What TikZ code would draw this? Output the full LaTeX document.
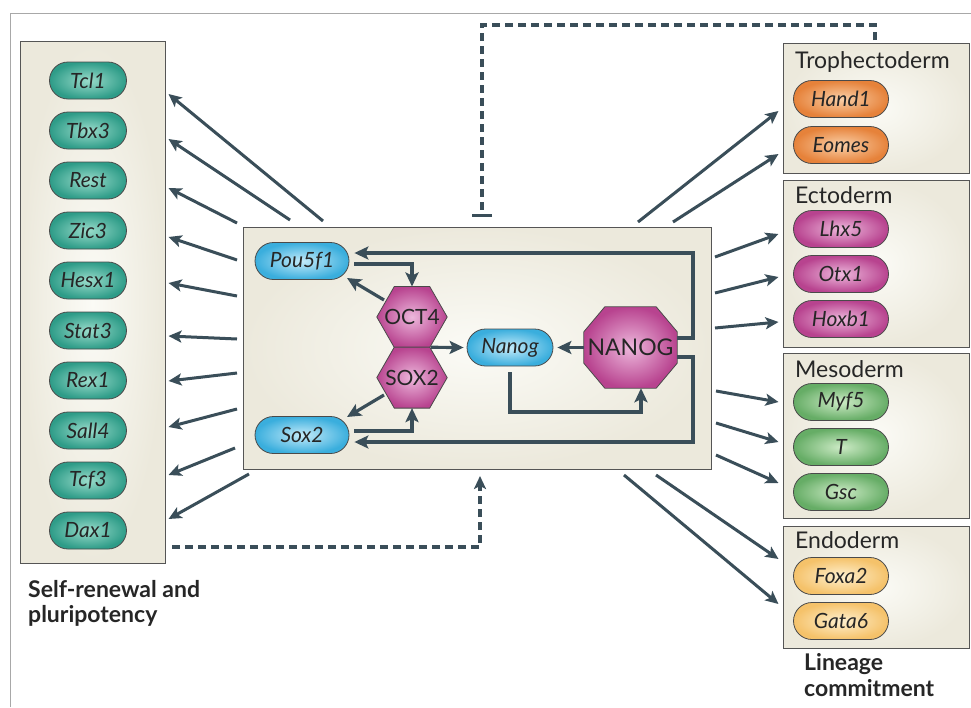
\documentclass[tikz,border=0pt]{standalone}
\usepackage{fontspec}
\setmainfont{Lato}
\usetikzlibrary{shapes.misc,shapes.geometric,arrows.meta}
\definecolor{beige}{HTML}{ECE9DC}
\definecolor{beigein}{HTML}{FBFBF6}
\definecolor{panelline}{HTML}{555555}
\definecolor{framec}{HTML}{A8A8A8}
\definecolor{arrowc}{HTML}{3A4E59}
\definecolor{pillline}{HTML}{4A4A4A}
\definecolor{tealout}{HTML}{2E9C88}
\definecolor{tealin}{HTML}{9ADCCB}
\definecolor{blueout}{HTML}{3AAEDD}
\definecolor{bluein}{HTML}{C4EBFA}
\definecolor{magout}{HTML}{B8438F}
\definecolor{magin}{HTML}{EDB8DC}
\definecolor{orout}{HTML}{E6823A}
\definecolor{orin}{HTML}{FAD0A8}
\definecolor{grout}{HTML}{66AD66}
\definecolor{grin}{HTML}{CDEBC6}
\definecolor{yeout}{HTML}{F5C26A}
\definecolor{yein}{HTML}{FEF0CF}
\tikzset{
  panel/.style={rectangle, draw=panelline, line width=1pt, inner color=beigein, outer color=beige},
  pill/.style={rounded rectangle, draw=pillline, line width=0.8pt, minimum height=37pt, inner sep=0pt,
    font=\fontsize{21}{21}\selectfont\itshape, text=black!85},
  lpill/.style={pill, minimum width=77pt, inner color=tealin, outer color=tealout},
  bpill/.style={pill, minimum width=94pt, inner color=bluein, outer color=blueout},
  rpill/.style={pill, minimum width=95pt},
  orpill/.style={rpill, inner color=orin, outer color=orout},
  mgpill/.style={rpill, inner color=magin, outer color=magout},
  grpill/.style={rpill, inner color=grin, outer color=grout},
  yepill/.style={rpill, inner color=yein, outer color=yeout},
  hexbox/.style={rectangle, minimum width=70pt, minimum height=60.6pt, inner sep=0pt},
  protein/.style={draw=pillline, line width=0.8pt, inner color=magin, outer color=magout},
  prottext/.style={inner sep=0pt, font=\fontsize{21}{21}\selectfont, text=black!85},
  title/.style={anchor=base west, inner sep=0pt, font=\fontsize{23}{26}\selectfont, text=black!85},
  biglabel/.style={anchor=base west, inner sep=0pt, font=\fontsize{23}{26}\selectfont\bfseries, text=black!85},
  arr/.style={draw=arrowc, line width=3pt, -{Stealth[length=13pt,width=12pt,inset=3pt]}},
  iarr/.style={draw=arrowc, line width=3.2pt, -{Stealth[length=14pt,width=13pt,inset=3pt]}},
  dsh/.style={draw=arrowc, line width=3.6pt, dash pattern=on 8pt off 5pt},
}
\begin{document}
\begin{tikzpicture}[x=1pt,y=-1pt]
\useasboundingbox (0,0) rectangle (971,707);
\fill[white] (0,0) rectangle (971,707);
% frame
\coordinate (frTL) at (10,13);
\coordinate (frTR) at (971,13);
\coordinate (frBL) at (10,707);
\draw[framec, line width=1pt] (frBL) -- (frTL) -- (frTR);

% panels
\node[panel, minimum width=145pt, minimum height=522pt] (left) at (92.5,302) {};
\node[panel, minimum width=468pt, minimum height=242pt] (cbox) at (477,348) {};
\node[panel, minimum width=186pt, minimum height=130pt] (troph) at (876,108) {};
\node[panel, minimum width=186pt, minimum height=167pt] (ecto) at (876,263.5) {};
\node[panel, minimum width=186pt, minimum height=165pt] (meso) at (876,435.5) {};
\node[panel, minimum width=186pt, minimum height=122pt] (endo) at (876,587) {};

% left pills
\node[lpill] (Tcl1) at (88,80.5) {Tcl1};
\node[lpill] (Tbx3) at (88,130.5) {Tbx3};
\node[lpill] (Rest) at (88,180.5) {Rest};
\node[lpill] (Zic3) at (88,230.5) {Zic3};
\node[lpill] (Hesx1) at (88,280.5) {Hesx1};
\node[lpill] (Stat3) at (88,330.5) {Stat3};
\node[lpill] (Rex1) at (88,380.5) {Rex1};
\node[lpill] (Sall4) at (88,430.5) {Sall4};
\node[lpill] (Tcf3) at (88,480.5) {Tcf3};
\node[lpill] (Dax1) at (88,530.5) {Dax1};

% right titles and pills
\node[title] (ttroph) at (795,68) {Trophectoderm};
\node[orpill] (Hand1) at (841,99) {Hand1};
\node[orpill] (Eomes) at (841,145) {Eomes};
\node[title] (tecto) at (795,203) {Ectoderm};
\node[mgpill] (Lhx5) at (841,229) {Lhx5};
\node[mgpill] (Otx1) at (841,274) {Otx1};
\node[mgpill] (Hoxb1) at (841,319) {Hoxb1};
\node[title] (tmeso) at (795,377) {Mesoderm};
\node[grpill] (Myf5) at (841,402) {Myf5};
\node[grpill] (Tgene) at (841,447) {T};
\node[grpill] (Gsc) at (841,492) {Gsc};
\node[title] (tendo) at (795,548) {Endoderm};
\node[yepill] (Foxa2) at (841,576) {Foxa2};
\node[yepill] (Gata6) at (841,621) {Gata6};

% labels
\node[biglabel] (lself1) at (28,597) {Self-renewal and};
\node[biglabel] (lself2) at (28,622) {pluripotency};
\node[biglabel] (lline1) at (804,670) {Lineage};
\node[biglabel] (lline2) at (804,696) {commitment};

% central network
\node[bpill] (Pou5f1) at (302,261) {Pou5f1};
\node[bpill] (Sox2) at (302,435) {Sox2};
\node[bpill, minimum width=86pt] (Nanog) at (510,347.5) {Nanog};
\node[hexbox] (OCT4) at (412,317) {};
\node[hexbox] (SOX2) at (412,377.6) {};
\foreach \h in {OCT4,SOX2}{
  \draw[protein] (\h.west) -- ([xshift=17.5pt]\h.north west) -- ([xshift=-17.5pt]\h.north east)
    -- (\h.east) -- ([xshift=-17.5pt]\h.south east) -- ([xshift=17.5pt]\h.south west) -- cycle;
}
\node[prottext] (OCT4label) at (OCT4) {OCT4};
\node[prottext] (SOX2label) at (SOX2) {SOX2};
\node[minimum width=93pt, minimum height=81pt, inner sep=0pt] (NANOG) at (630.5,347.5) {};
\draw[protein] ([xshift=21pt]NANOG.north west) -- ([xshift=-21pt]NANOG.north east)
  -- ([yshift=-25pt]NANOG.north east) -- ([yshift=25pt]NANOG.south east)
  -- ([xshift=-21pt]NANOG.south east) -- ([xshift=21pt]NANOG.south west)
  -- ([yshift=25pt]NANOG.south west) -- ([yshift=-25pt]NANOG.north west) -- cycle;
\node[prottext, font=\fontsize{23}{23}\selectfont] (NANOGlabel) at (NANOG) {NANOG};

\coordinate (hexjoin) at (431,347.3);
\coordinate (octout) at (384,300);
\coordinate (soxout) at (384,395);
\coordinate (pouin) at (347,278);
\coordinate (soxin) at (347,417);
\draw[iarr] (NANOG.east |- 0,338) -- (693,338) |- ([xshift=5pt]Pou5f1.east |- 0,253);
\draw[iarr] (NANOG.east |- 0,357) -- (693,357) |- ([xshift=5pt]Sox2.east |- 0,442);
\draw[iarr] ([xshift=5pt]Pou5f1.east |- 0,264) -| (OCT4.north);
\draw[iarr] ([xshift=5pt]Sox2.east |- 0,431) -| (SOX2.south);
\draw[iarr] (octout) -- (pouin);
\draw[iarr] (soxout) -- (soxin);
\draw[iarr] (hexjoin) -- ([xshift=-3pt]Nanog.west);
\draw[iarr] (NANOG.west) -- ([xshift=4pt]Nanog.east);
\draw[iarr] (Nanog.south |- 0,372) |- (641,412) -- (NANOG.south -| 641,0);

% dashed feedback lines
\coordinate (tA) at (875,40);
\coordinate (tB) at (875,25);
\coordinate (tC) at (482,25);
\coordinate (tD) at (482,217);
\draw[dsh, -{Bar[width=20pt,line width=3.5pt]}] (tA) -- (tB) -- (tC) -- (tD);
\coordinate (bA) at (172,547);
\coordinate (bB) at (480,547);
\coordinate (bC) at (480,476);
\draw[dsh, -{Stealth[length=13pt,width=12pt,inset=3pt]}] (bA) -- (bB) -- (bC);

% arrows to self-renewal genes
\foreach \i/\sx/\sy/\ty in {1/323/221/94, 2/290/220/139, 3/237/223/188, 4/237/260/237, 5/237/296/283,
  6/237/339/336, 7/237/373/381, 8/237/409/427, 9/235/448/475, 10/249/474/519}{
  \coordinate (ls\i) at (\sx,\sy);
  \draw[arr] (ls\i) -- ([xshift=3pt]left.east |- 0,\ty);
}
% arrows to lineage genes
\foreach \i/\sx/\sy/\ty in {1/638/222/111, 2/673/222/154, 3/715/257/234, 4/715/293/277, 5/715/328/322,
  6/716/391/402, 7/716/423/442, 8/716/455/483, 9/656/475/559, 10/624/475/604}{
  \coordinate (rs\i) at (\sx,\sy);
  \draw[arr] (rs\i) -- ([xshift=-4pt]troph.west |- 0,\ty);
}
\end{tikzpicture}
\end{document}
